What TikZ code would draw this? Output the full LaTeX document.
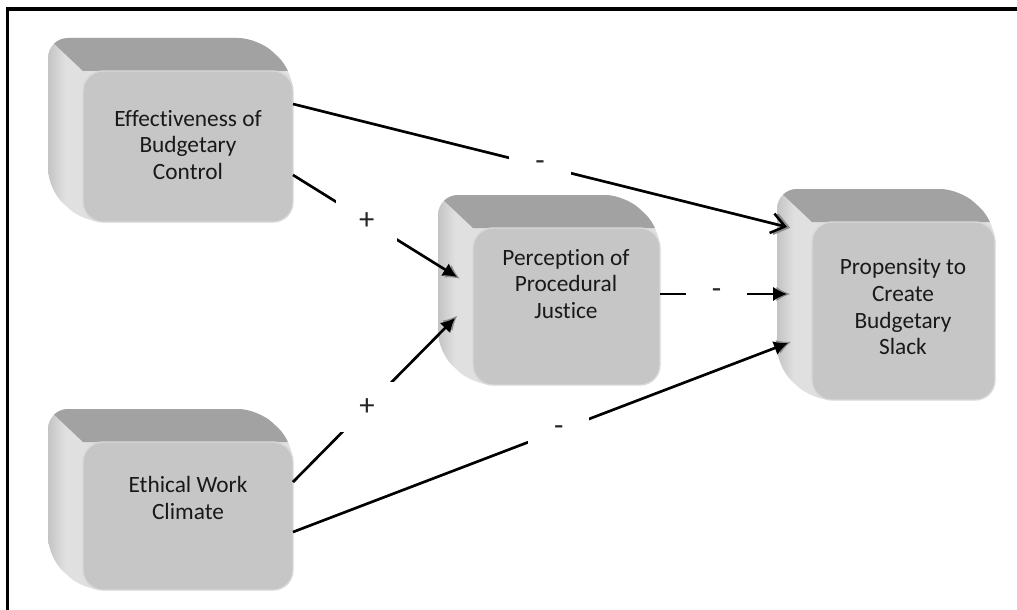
\documentclass[tikz,border=0pt]{standalone}
\usepackage{fontspec}
\setmainfont[Ligatures=NoCommon]{Carlito}
\usetikzlibrary{arrows.meta, fit}

\definecolor{cubetop}{HTML}{A2A2A2}
\definecolor{cubeside}{HTML}{E0E0E0}
\definecolor{cubeedge}{HTML}{C2C2C2}
\definecolor{cubefront}{HTML}{C6C6C6}
\definecolor{cuberim}{HTML}{D8D8D8}
\definecolor{tipgray}{HTML}{8C8C8C}

% bevelled box: name, front face x1, y1, x2, y2 (pixels)
\newcommand{\cubebox}[5]{%
  \begin{scope}
    \clip[rounded corners=15pt] (#2-35,#3-33) -- (#4-35,#3-33) -- (#4,#3)
      -- (#4,#5) -- (#2,#5) -- (#2-35,#5-33) -- cycle;
    \shade[left color=cubeedge, right color=cubeside] (#2-36,#3-34) rectangle (#2-18,#5);
    \fill[cubeside] (#2-18,#3-34) rectangle (#4,#5);
    \fill[cubetop] (#2-36,#3-34) -- (#4+1,#3-34) -- (#4+1,#3) -- (#2,#3) -- cycle;
  \end{scope}
  \node[cubeface, fit={(#2,#3) (#4,#5)}] (#1) {};
}

\begin{document}
\begin{tikzpicture}[x=0.75pt, y=-0.75pt,
    link/.style={line width=1.9pt, black},
    linkshade/.style={line width=1.9pt, tipgray, shorten >=-2.5pt},
    tipfill/.style={-{Latex[length=10.5pt,width=11pt]}},
    tipopen/.style={-{Straight Barb[length=10pt,width=15pt]}},
    gapbox/.style={fill=white, minimum width=46pt, minimum height=37pt, inner sep=0pt,
      text=black!85, font=\fontsize{23}{23}\selectfont},
    boxtext/.style={align=center, text=black!90, font=\fontsize{17.5}{20}\selectfont},
    cubeface/.style={draw=cuberim, fill=cubefront, line width=1pt, rounded corners=15pt, inner sep=0pt}]

  \useasboundingbox (0,0) rectangle (1017,610);

  % frame (only top and left edge fall inside the picture)
  \draw[line width=2.6pt] (7.5,615) -- (7.5,9) -- (1022,9);

  % --- boxes ---
  \cubebox{ebc}{83}{71}{293}{222}
  \cubebox{ppj}{473}{228}{660}{385}
  \cubebox{pcs}{812}{222}{995}{400}
  \cubebox{ewc}{83}{442}{293}{590}

  \node[boxtext] (ebc-txt) at (188,145) {Effectiveness of\\Budgetary\\Control};
  \node[boxtext] (ppj-txt) at (566,284) {Perception of\\Procedural\\Justice};
  \node[boxtext] (pcs-txt) at (903,307) {Propensity to\\Create\\Budgetary\\Slack};
  \node[boxtext] (ewc-txt) at (188,498) {Ethical Work\\Climate};

  % --- arrow ends ---
  \coordinate (ebc-o1) at (293,104);
  \coordinate (ebc-o2) at (293,175);
  \coordinate (ewc-o1) at (293,482);
  \coordinate (ewc-o2) at (293,532);
  \coordinate (ppj-o)  at (660,294);
  \coordinate (ppj-i1) at (457,277);
  \coordinate (ppj-i2) at (455,318);
  \coordinate (pcs-i1) at (787,227);
  \coordinate (pcs-i2) at (787,294);
  \coordinate (pcs-i3) at (788,343);

  % --- paths with signs ---
  \foreach \src/\dst/\pos/\sign/\tip in {ebc-o1/pcs-i1/0.5/-/tipopen,
      ebc-o2/ppj-i1/0.45/+/tipfill, ewc-o1/ppj-i2/0.457/+/tipfill,
      ewc-o2/pcs-i3/0.537/-/tipfill, ppj-o/pcs-i2/0.446/-/tipfill} {
    \draw[linkshade, \tip] (\src) -- (\dst);
    \draw[link, \tip] (\src) -- (\dst) node[gapbox, pos=\pos] (gap-\src) {\sign};
  }

\end{tikzpicture}
\end{document}
